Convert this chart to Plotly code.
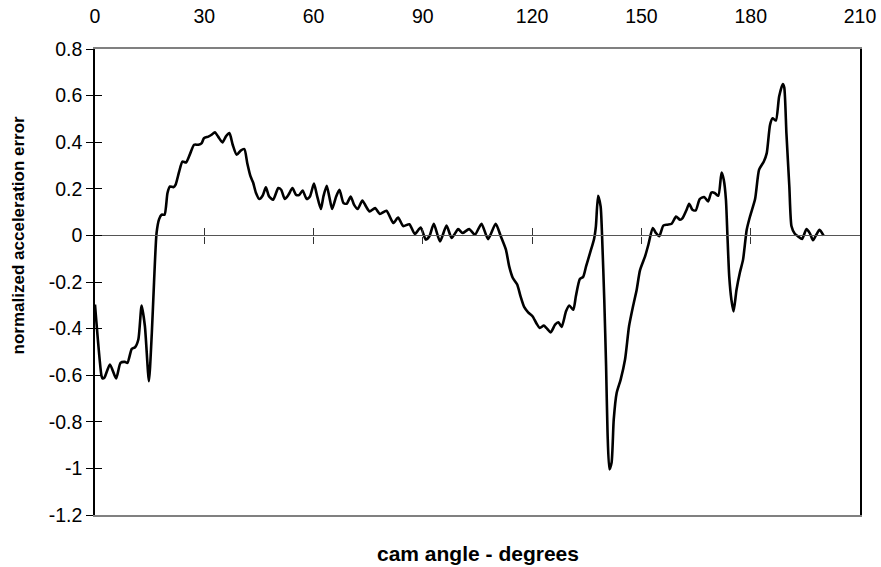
import plotly.graph_objects as go

# cam angle (degrees) and normalized acceleration error
angle = [0, 1.8, 2.1, 2.6, 4.1, 5.8, 7.0, 8.2, 8.9, 10.1, 11.0, 11.9, 12.8, 13.7, 14.8,
         15.6, 16.2, 16.9, 17.6, 18.3, 19.1, 19.9, 20.6, 21.5, 22.1, 23.1, 24.0, 25.0,
         26.1, 27.2, 28.4, 29.3, 29.9, 31.1, 32.0, 32.9, 33.8, 35.0, 35.9, 36.9, 37.8,
         38.9, 40.0, 41.0, 41.8, 42.7, 43.4, 44.2, 45.1, 46.0, 46.9, 47.8, 48.9, 50.3,
         51.1, 52.1, 53.1, 54.2, 55.2, 56.1, 57.0, 58.1, 59.0, 60.1, 60.9, 62.0, 62.7,
         63.6, 64.3, 65.1, 66.2, 67.1, 68.2, 69.1, 70.2, 71.1, 72.1, 73.4, 74.4, 75.4,
         76.9, 78.2, 80.0, 81.9, 83.2, 84.6, 86.3, 87.8, 89.4, 90.8, 91.8, 93.0, 94.7,
         96.5, 97.9, 99.7, 100.9, 102.7, 104.3, 106.1, 107.9, 110.0, 111.4, 112.8, 113.7,
         114.7, 115.9, 116.8, 117.8, 118.9, 120.1, 121.2, 122.1, 123.2, 123.9, 125.1,
         126.3, 127.2, 128.1, 129.3, 130.2, 131.3, 132.0, 133.1, 134.0, 134.8, 135.9,
         137.0, 137.5, 138.1, 138.8, 139.2, 139.8, 140.3, 140.7, 141.2, 141.8, 142.4,
         143.2, 144.3, 145.5, 146.6, 147.7, 148.7, 149.6, 151.0, 151.9, 153.1, 154.0,
         154.9, 156.0, 157.1, 158.3, 159.5, 160.6, 161.3, 162.4, 163.1, 164.0, 164.9,
         166.0, 167.2, 168.3, 169.2, 170.1, 171.1, 172.0, 172.6, 173.2, 173.6, 174.1,
         174.7, 175.3, 176.1, 177.0, 177.9, 178.9, 179.8, 181.2, 182.3, 183.6, 184.4,
         185.3, 186.0, 186.9, 187.8, 188.8, 189.2, 189.8, 190.6, 191.2, 192.1, 193.0,
         194.1, 195.3, 196.2, 197.1, 198.0, 198.9, 200.0]
error = [-0.297, -0.604, -0.614, -0.61, -0.554, -0.614, -0.547, -0.543, -0.547, -0.487,
         -0.48, -0.447, -0.301, -0.39, -0.626, -0.418, -0.204, 0.01, 0.07, 0.089, 0.089,
         0.182, 0.21, 0.207, 0.217, 0.274, 0.317, 0.313, 0.35, 0.389, 0.389, 0.396, 0.417,
         0.424, 0.432, 0.443, 0.424, 0.399, 0.424, 0.439, 0.389, 0.346, 0.364, 0.37, 0.31,
         0.253, 0.227, 0.182, 0.156, 0.17, 0.206, 0.167, 0.153, 0.203, 0.196, 0.156, 0.174,
         0.203, 0.174, 0.174, 0.193, 0.156, 0.167, 0.222, 0.174, 0.113, 0.167, 0.213, 0.167,
         0.113, 0.167, 0.196, 0.139, 0.136, 0.167, 0.132, 0.113, 0.15, 0.124, 0.103, 0.117,
         0.092, 0.106, 0.053, 0.077, 0.04, 0.048, 0.006, 0.034, -0.018, -0.004, 0.05,
         -0.026, 0.042, -0.011, 0.027, 0.01, 0.027, 0.003, 0.05, -0.016, 0.05, -0.004,
         -0.061, -0.133, -0.183, -0.211, -0.261, -0.307, -0.33, -0.347, -0.378, -0.397,
         -0.387, -0.397, -0.416, -0.383, -0.373, -0.393, -0.326, -0.301, -0.319, -0.261,
         -0.187, -0.178, -0.133, -0.075, -0.015, 0.039, 0.17, 0.124, -0.004, -0.276,
         -0.561, -0.847, -1.004, -0.976, -0.79, -0.676, -0.619, -0.533, -0.39, -0.304,
         -0.233, -0.15, -0.09, -0.04, 0.032, 0.01, -0.004, 0.042, 0.046, 0.05, 0.081,
         0.067, 0.074, 0.11, 0.136, 0.11, 0.107, 0.156, 0.165, 0.146, 0.184, 0.182, 0.17,
         0.27, 0.239, 0.153, 0.003, -0.176, -0.276, -0.326, -0.233, -0.161, -0.104, 0.024,
         0.081, 0.156, 0.282, 0.317, 0.353, 0.474, 0.503, 0.493, 0.596, 0.65, 0.636, 0.439,
         0.21, 0.039, 0.007, -0.004, -0.015, 0.027, 0.01, -0.021, 0.003, 0.024, -0.001]

x_ticks = [0, 30, 60, 90, 120, 150, 180, 210]
y_ticks = [0.8, 0.6, 0.4, 0.2, 0, -0.2, -0.4, -0.6, -0.8, -1, -1.2]
y_tick_text = ["0.8", "0.6", "0.4", "0.2", "0", "-0.2", "-0.4", "-0.6", "-0.8", "-1", "-1.2"]
x_title = "cam angle - degrees"
y_title = "normalized acceleration error"

FONT = "Liberation Sans, Arial, sans-serif"
X_RANGE = [0, 210]
Y_RANGE = [-1.2, 0.8]
zero_pos = (0 - Y_RANGE[0]) / (Y_RANGE[1] - Y_RANGE[0])
TICK_SIZE = 19.5

fig = go.Figure()
fig.add_trace(go.Scatter(x=angle, y=error, mode="lines",
                         line=dict(color="black", width=2.6, shape="spline", smoothing=0.6),
                         showlegend=False, hoverinfo="skip"))
# helper empty traces so the overlay axes are drawn
fig.add_trace(go.Scatter(x=[], y=[], xaxis="x2", yaxis="y2", showlegend=False))
fig.add_trace(go.Scatter(x=[], y=[], xaxis="x3", yaxis="y2", showlegend=False))

fig.update_layout(
    width=881, height=567,
    margin=dict(l=95, r=21, t=49, b=52),
    paper_bgcolor="white", plot_bgcolor="white",
    font=dict(family=FONT, color="black", size=TICK_SIZE),
    xaxis=dict(range=X_RANGE, side="top", tickvals=x_ticks, showgrid=False, zeroline=False,
               showline=True, linecolor="#808080", linewidth=1.5, mirror=True,
               ticks="outside", ticklen=16, tickcolor="rgba(0,0,0,0)", automargin=False,
               tickfont=dict(size=TICK_SIZE, family=FONT)),
    yaxis=dict(range=Y_RANGE, tickvals=y_ticks, ticktext=y_tick_text, showgrid=False,
               zeroline=False, showline=True, linecolor="black", linewidth=1.5, mirror=True,
               ticks="outside", ticklen=7, tickcolor="black", tickwidth=1, automargin=False,
               tickfont=dict(size=TICK_SIZE, family=FONT)),
    yaxis2=dict(range=Y_RANGE, overlaying="y", tickvals=y_ticks, showticklabels=False,
                showgrid=False, zeroline=False, showline=False, automargin=False,
                ticks="inside", ticklen=7, tickcolor="black", tickwidth=1),
    xaxis2=dict(range=X_RANGE, overlaying="x", anchor="free", position=zero_pos,
                tickvals=x_ticks[1:-1], showticklabels=False, showgrid=False, zeroline=False,
                showline=True, linecolor="#555555", linewidth=1.2, automargin=False,
                ticks="outside", ticklen=7, tickcolor="#333333", tickwidth=1),
    xaxis3=dict(range=X_RANGE, overlaying="x", anchor="free", position=zero_pos,
                tickvals=x_ticks[1:-1], showticklabels=False, showgrid=False, zeroline=False,
                showline=False, side="top", automargin=False,
                ticks="outside", ticklen=7, tickcolor="#333333", tickwidth=1),
    annotations=[
        dict(text="<b>" + x_title + "</b>", xref="paper", yref="paper", x=0.5, y=0,
             yshift=-38, yanchor="middle", xanchor="center", showarrow=False,
             font=dict(size=21, family=FONT)),
        dict(text="<b>" + y_title + "</b>", xref="paper", yref="paper", x=0, y=0.6,
             xshift=-77, xanchor="center", yanchor="middle", textangle=-90, showarrow=False,
             font=dict(size=17, family=FONT)),
    ],
)

fig.write_html("out.html")
